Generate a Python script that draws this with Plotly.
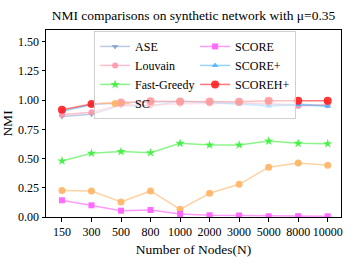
import plotly.graph_objects as go

nodes = ["150", "300", "500", "800", "1000", "2000", "3000", "5000", "8000", "10000"]

ase = [0.86, 0.88, 0.955, 0.95, 0.99, 0.985, 0.975, 0.96, 0.965, 0.955]
louvain = [0.875, 0.897, 0.96, 0.957, 0.97, 0.97, 0.975, 0.975, 0.95, 0.96]
fast_greedy = [0.48, 0.546, 0.56, 0.55, 0.63, 0.617, 0.617, 0.65, 0.63, 0.627]
sc = [0.226, 0.223, 0.128, 0.223, 0.066, 0.203, 0.28, 0.426, 0.463, 0.443]
score = [0.143, 0.10, 0.054, 0.06, 0.026, 0.015, 0.013, 0.006, 0.007, 0.006]
score_plus = [0.905, 0.96, 0.975, 0.985, 0.99, 0.98, 0.966, 0.95, 0.96, 0.948]
scoreh_plus = [0.917, 0.966, 0.98, 0.99, 0.988, 0.988, 0.986, 0.994, 0.994, 0.994]

series = [
    # name, values, rgb, alpha, symbol, size, legendrank
    ("ASE", ase, (130, 160, 210), 0.55, "triangle-down", 6, 1),
    ("Louvain", louvain, (255, 150, 170), 0.6, "circle", 6, 3),
    ("Fast-Greedy", fast_greedy, (60, 240, 60), 0.6, "star", 7, 5),
    ("SC", sc, (255, 180, 100), 0.6, "circle", 7, 7),
    ("SCORE", score, (255, 100, 255), 0.65, "square", 6, 2),
    ("SCORE+", score_plus, (80, 180, 255), 0.6, "triangle-up", 6, 4),
    ("SCOREH+", scoreh_plus, (255, 30, 30), 0.6, "circle", 8, 6),
]

fig = go.Figure()
for name, vals, rgb, a, sym, size, rank in series:
    col = "rgba(%d,%d,%d,%.2f)" % (rgb[0], rgb[1], rgb[2], a)
    mcol = "rgba(%d,%d,%d,%.2f)" % (rgb[0], rgb[1], rgb[2], min(1, a + 0.3))
    fig.add_trace(go.Scatter(
        x=nodes, y=vals, name=name, mode="lines+markers",
        line=dict(color=col, width=1.5),
        marker=dict(symbol=sym, size=size, color=mcol, line=dict(width=0)),
        legendrank=rank,
    ))

font = "Liberation Serif"
fig.update_layout(
    width=357, height=268,
    margin=dict(l=46, r=16, t=30, b=51, autoexpand=False),
    paper_bgcolor="white", plot_bgcolor="white",
    font=dict(family=font, size=12, color="black"),
    title=dict(text="NMI comparisons on synthetic network with μ=0.35",
               x=0.5, xref="paper", xanchor="center", y=0.944, yanchor="middle",
               font=dict(size=13.5, family=font, color="black"), automargin=False),
    xaxis=dict(type="category", range=[-0.54, 9.45], showline=True, linecolor="black",
               linewidth=1, mirror=True, ticks="outside", ticklen=3.5, tickcolor="black",
               showgrid=False, zeroline=False, tickangle=0, automargin=False,
               title=dict(text="Number of Nodes(N)", font=dict(size=13.5), standoff=6),
               tickfont=dict(size=12)),
    yaxis=dict(range=[0, 1.6], showline=True, linecolor="black", linewidth=1, mirror=True,
               ticks="outside", ticklen=3.5, tickcolor="black", showgrid=False, zeroline=False,
               tickvals=[0, 0.25, 0.5, 0.75, 1.0, 1.25, 1.5], tickformat=".2f",
               automargin=False,
               title=dict(text="NMI", font=dict(size=13.5), standoff=4),
               tickfont=dict(size=12)),
    legend=dict(orientation="h", x=0.163, y=0.995, xanchor="left", yanchor="top",
                entrywidth=55, itemwidth=30, bgcolor="rgba(255,255,255,0.55)",
                bordercolor="#d0d0d0", borderwidth=1, font=dict(size=12, family=font),
                tracegroupgap=0),
)

fig.write_html("out.html", config={"displayModeBar": False},
               post_script="document.body.style.margin='0';")
